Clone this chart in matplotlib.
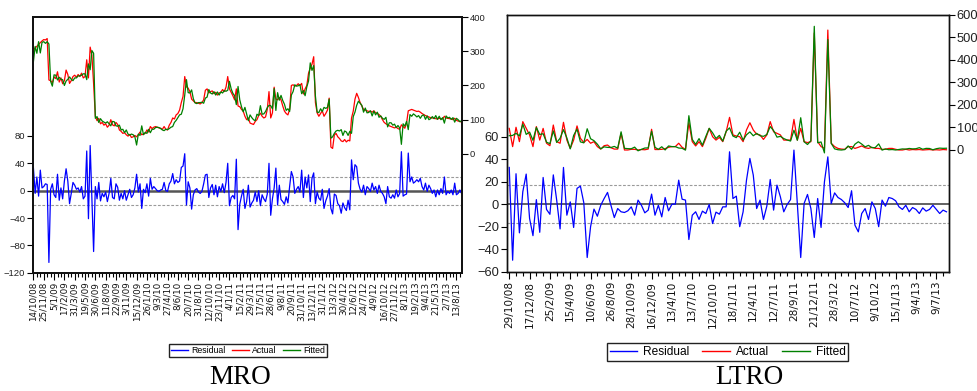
import numpy as np
import matplotlib
matplotlib.use('Agg')
import matplotlib.pyplot as plt
from matplotlib.lines import Line2D

plt.rcParams['font.family'] = ['Liberation Sans', 'DejaVu Sans']

# ---- MRO (weekly) ----
mro_labels = ["14/10/08", "25/11/08", "5/1/09", "17/2/09", "31/3/09", "19/5/09", "30/6/09",
              "11/8/09", "22/9/09", "3/11/09", "15/12/09", "26/1/10", "9/3/10", "27/4/10",
              "8/6/10", "20/7/10", "31/8/10", "12/10/10", "23/11/10", "4/1/11", "15/2/11",
              "29/3/11", "17/5/11", "28/6/11", "9/8/11", "20/9/11", "31/10/11", "13/12/11",
              "31/1/12", "13/3/12", "30/4/12", "12/6/12", "24/7/12", "4/9/12", "16/10/12",
              "27/11/12", "8/1/13", "19/2/13", "9/4/13", "21/5/13", "2/7/13", "13/8/13"]

mro_residual = [
    33, -4, 20, -8, 30, 4, 6, 10, 9, -105,
    2, 10, -6, -10, 24, -14, 4, -12, 14, 32,
    14, -19, -4, 12, 8, 2, 4, -2, 6, -12,
    -8, 58, -41, 66, -14, -89, 6, -12, 12, -15,
    -4, -9, -2, -16, -4, 18, -10, -12, 10, 5,
    -14, -4, -12, 0, -14, -6, 2, -10, -6, 4,
    24, -2, 10, -26, 2, -3, 10, -8, 18, 2,
    6, 3, 0, -1, 1, 2, 12, 0, -1, 10,
    14, 25, 10, 16, 12, 14, 34, 36, 54, -21,
    13, 4, -27, -6, 1, 3, -2, -4, -1, 10,
    23, 24, -10, 4, 9, -6, 8, -9, 6, -1,
    10, -3, 12, 40, -22, -10, -7, -12, 46, -57,
    -20, -8, 2, -26, -16, 8, -24, -18, -14, -2,
    -16, 0, -22, -6, -12, -16, -5, 40, -36, -12,
    4, 33, -21, 8, -13, -16, -20, -9, -18, 6,
    28, 20, -4, 2, 6, -2, 30, -10, 20, 4,
    23, -16, 18, 26, -19, -2, -11, -14, 2, -26,
    -15, -8, 3, -26, -34, -5, -7, -19, -22, -33,
    -18, -25, -29, -14, -28, 45, 16, 38, 35, 11,
    2, -2, 8, -6, 6, 3, -1, 11, 1, 6,
    -4, 8, -1, -4, -9, -19, 6, -9, -11, -6,
    -11, 1, -9, -4, 57, -8, -6, -5, 55, 13,
    20, 11, 13, 16, 13, 18, 6, 1, 11, -1,
    8, 3, -4, 1, -9, 1, -6, 3, -4, 20,
    -6, -1, -4, 1, -6, 11, -6, -4, 1, -4,
]

mro_actual = [
    303, 310, 314, 320, 325, 330, 334, 333, 337, 216,
    214, 208, 225, 220, 240, 210, 222, 205, 214, 245,
    232, 206, 214, 226, 230, 224, 232, 226, 236, 222,
    226, 275, 222, 312, 288, 205, 110, 97, 104, 88,
    92, 84, 88, 78, 84, 100, 85, 82, 92, 86,
    70, 66, 60, 62, 56, 52, 57, 48, 50, 54,
    50, 56, 64, 56, 58, 60, 70, 64, 80, 74,
    78, 80, 78, 76, 75, 72, 80, 72, 70, 84,
    92, 105, 102, 114, 118, 128, 150, 168, 226, 196,
    192, 182, 160, 155, 150, 150, 148, 146, 150, 158,
    186, 190, 178, 182, 184, 176, 180, 172, 178, 180,
    188, 182, 195, 226, 190, 180, 170, 158, 190, 140,
    138, 130, 125, 110, 100, 105, 90, 88, 86, 95,
    100, 112, 119, 110, 105, 108, 130, 182, 105, 120,
    195, 160, 158, 165, 158, 140, 125, 118, 114, 130,
    200, 202, 198, 200, 205, 200, 206, 175, 190, 200,
    236, 250, 262, 284, 150, 120, 110, 118, 126, 110,
    118, 128, 163, 20, 16, 55, 60, 50, 45, 38,
    36, 42, 35, 40, 38, 105, 125, 160, 177, 165,
    150, 140, 130, 128, 126, 124, 125, 122, 126, 120,
    118, 115, 110, 100, 92, 88, 85, 82, 80, 78,
    76, 78, 74, 72, 85, 80, 75, 90, 126, 128,
    130, 128, 126, 124, 125, 122, 118, 115, 112, 110,
    108, 106, 105, 104, 103, 102, 104, 103, 102, 110,
    105, 104, 103, 102, 100, 104, 98, 96, 95, 93,
]
mro_se = 20.5

# ---- LTRO ----
ltro_labels = ["29/10/08", "17/12/08", "25/2/09", "15/4/09", "10/6/09", "26/8/09",
               "28/10/09", "16/12/09", "13/4/10", "13/7/10", "12/10/10", "18/1/11",
               "12/4/11", "12/7/11", "28/9/11", "21/12/11", "28/3/12", "10/7/12",
               "9/10/12", "15/1/13", "9/4/13", "9/7/13"]

ltro_residual = [
    32.6, -49.8, 27, -25.5, 11, 26.7, -12.7, -28, 4, -25,
    23.7, -4.7, -9, 26, 3.5, -22, 32.6, -9.8, 2, -20.7,
    14, 16, 1.2, -47.4, -20, -4.4, -10.7, -1, 5, 10.4,
    -1, -11.9, -3.9, -6.8, -7.4, -5.9, -2.4, -9.8, 3.6, -1,
    -7.7, -5.3, 8.9, -9.8, -1, -11.3, 5.9, -5.9, 0, 0,
    21.3, 4.4, 3.6, -31.4, -9.8, -6.8, -13.6, -6.2, -8.3, -0.3,
    -17.2, -7.1, -8.9, -2.4, -2.4, 46.5, 5, 7.1, -20, -6.8,
    21.3, 40.6, 25.8, -3.9, 3.6, -13.6, -1.8, 21.9, -5.3, 16.9,
    6.5, -6.8, -0.3, 4.1, 48, 0.6, -47.4, 0.6, 8.6, -3.9,
    -29.6, 5, -20.7, 19.9, 42, 0.6, 10, 5.9, 4.1, 1.2,
    -3, 11.9, -18.7, -24.6, -8.3, -3.9, -13.6, 2, -3.9, -20,
    3.6, -1.8, 5.9, 5, 3, -2.4, -4.7, -1, -6.8, -3,
    -4.7, -8.3, -3.3, -6.2, -4.7, -1, -4.7, -8.3, -5.3, -6.8,
]

ltro_actual = [
    96, 15, 101, 37, 126, 96, 67, 15, 104, 44,
    96, 30, 19, 111, 37, 30, 123, 44, 7, 44,
    107, 52, 33, 47, 30, 37, 15, 4, 19, 22,
    10, 4, 4, 74, 0, 0, 3, 3, 0, 2,
    1, 4, 92, 2, 2, 3, 6, 12, 15, 15,
    30, 12, 3, 121, 37, 18, 37, 15, 52, 96,
    59, 44, 56, 37, 81, 145, 67, 62, 59, 37,
    89, 121, 89, 70, 67, 47, 67, 126, 81, 74,
    67, 44, 44, 44, 136, 44, 96, 37, 33, 37,
    520, 37, 15, 7, 533, 30, 15, 7, 4, 3,
    15, 15, 7, 12, 18, 10, 7, 12, 7, 7,
    3, 3, 7, 7, 3, 0, 0, 3, 0, 2,
    1, 2, 0, 1, 2, 0, 1, 0, 2, 1,
]
ltro_se = 17.0

LABEL_STEP = 6
W, H = 978, 391

fig = plt.figure(figsize=(W / 100, H / 100), dpi=100)


def px_rect(left, top, right, bottom):
    return [left / W, 1 - bottom / H, (right - left) / W, (bottom - top) / H]


def draw_panel(rect, resid, actual, labels, se, xpad, lylim, lticks, rylim, rticks,
               ytick_font, ytick_size, xtick_size, zero_lw, spine_lw):
    resid = np.asarray(resid, float)
    actual = np.asarray(actual, float)
    fitted = actual - resid
    x = np.arange(len(resid))

    ax = fig.add_axes(rect)
    ax2 = ax.twinx()

    ax.axhline(0, color='#555555', lw=zero_lw, zorder=1)
    for lvl in (se, -se):
        ax.axhline(lvl, color='#9a9a9a', lw=0.8, ls=(0, (2.5, 1.5)), zorder=1)
    ax.plot(x, resid, color='#0000ff', lw=0.9, zorder=2)

    ax2.plot(x, actual, color='#ff0000', lw=0.9)
    ax2.plot(x, fitted, color='#008000', lw=0.9)

    ax.set_xlim(-xpad[0], len(x) - 1 + xpad[1])
    ax.set_ylim(*lylim)
    ax2.set_ylim(*rylim)
    ax.set_yticks(lticks)
    ax2.set_yticks(rticks)

    ax.set_xticks(np.arange(len(labels)) * LABEL_STEP)
    ax.set_xticklabels(labels, rotation=90, fontsize=xtick_size,
                       family=['DejaVu Sans'], color='#111111')
    ax.set_xticks(np.arange(0, len(x), 2), minor=True)
    ax.tick_params(axis='x', which='major', length=5, width=0.8, pad=1.5)
    ax.tick_params(axis='x', which='minor', length=3, width=0.8)
    ax.tick_params(axis='y', length=4, width=0.8, pad=1.5)
    ax2.tick_params(axis='y', length=4, width=0.8, pad=1.5)
    for lab in ax.get_yticklabels() + ax2.get_yticklabels():
        lab.set_family(ytick_font)
        lab.set_fontsize(ytick_size)
        lab.set_color('#222222')
    for a in (ax, ax2):
        for s in a.spines.values():
            s.set_linewidth(spine_lw)
            s.set_color('#111111')
    return ax


draw_panel(px_rect(33, 17, 462, 272.7), mro_residual, mro_actual, mro_labels, mro_se,
           (0.25, 0.25), (-120, 254), [-120, -80, -40, 0, 40, 80],
           (-347, 400), [0, 100, 200, 300, 400],
           ['Liberation Sans Narrow', 'Liberation Sans'], 6.8, 6.3, 1.8, 1.3)

draw_panel(px_rect(506.7, 15, 949, 271.7), ltro_residual, ltro_actual, ltro_labels, ltro_se,
           (0.75, 0.75), (-60, 168), [-60, -40, -20, 0, 20, 40, 60],
           (-541, 600), [0, 100, 200, 300, 400, 500, 600],
           ['Liberation Sans'], 9.3, 7.6, 1.3, 1.0)

handles = [Line2D([], [], color='#0000ff', lw=1),
           Line2D([], [], color='#ff0000', lw=1),
           Line2D([], [], color='#008000', lw=1)]
names = ['Residual', 'Actual', 'Fitted']

leg1 = fig.legend(handles, names, loc='center', bbox_to_anchor=(248 / W, 1 - 350.5 / H),
                  ncol=3, fancybox=False, edgecolor='#222222', framealpha=1,
                  handlelength=2.0, handletextpad=0.35, columnspacing=0.7,
                  borderpad=0.25, prop={'family': ['Liberation Sans Narrow', 'Liberation Sans'],
                                        'size': 6.3})
leg1.get_frame().set_linewidth(1.0)

leg2 = fig.legend(handles, names, loc='center', bbox_to_anchor=(727.5 / W, 1 - 352 / H),
                  ncol=3, fancybox=False, edgecolor='#222222', framealpha=1,
                  handlelength=2.3, handletextpad=0.5, columnspacing=1.1,
                  borderpad=0.25, prop={'family': ['Liberation Sans'], 'size': 8.6})
leg2.get_frame().set_linewidth(1.0)

fig.text(240 / W, 1 - 377 / H, 'MRO', ha='center', va='center',
         family=['Liberation Serif'], fontsize=19.5)
fig.text(749 / W, 1 - 377.5 / H, 'LTRO', ha='center', va='center',
         family=['Liberation Serif'], fontsize=19.5)

fig.savefig('out.png', dpi=100)
